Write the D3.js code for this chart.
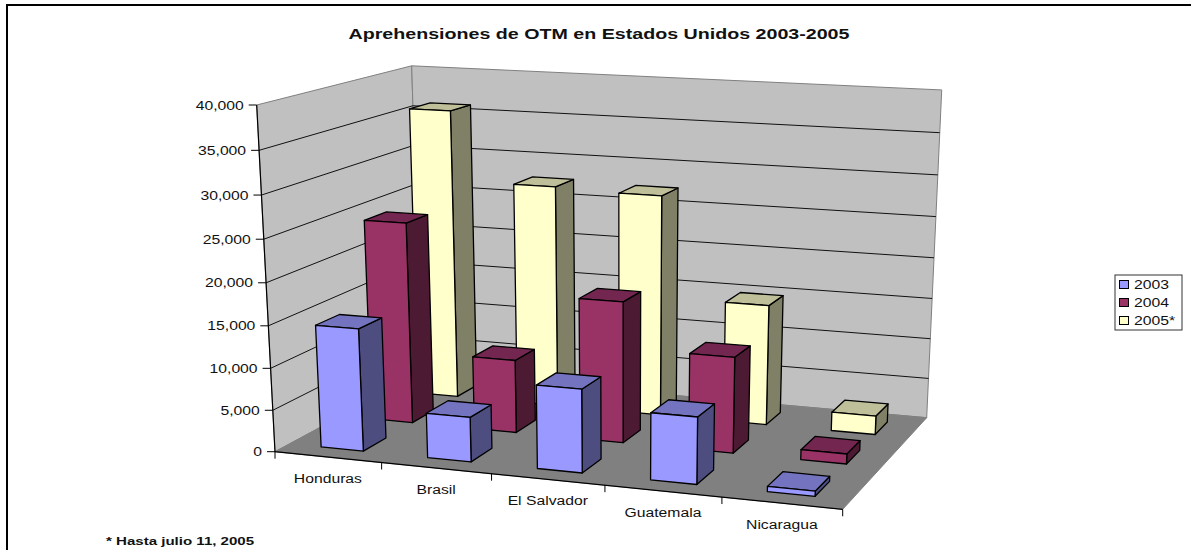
<!DOCTYPE html>
<html>
<head>
<meta charset="utf-8">
<script src="https://cdn.jsdelivr.net/npm/d3@7"></script>
<style>
  html, body { margin: 0; padding: 0; background: #fff; }
  svg { display: block; }
  text { font-family: "Liberation Sans", Arial, sans-serif; fill: #111; }
</style>
</head>
<body>
<div id="chart"></div>
<script>
const categories = ["Honduras", "Brasil", "El Salvador", "Guatemala", "Nicaragua"];
const years = ["2003", "2004", "2005*"];
const values2003 = [14600, 5300, 9800, 7800, 600];
const values2004 = [24500, 8900, 17000, 11500, 1200];
const values2005 = [36000, 27500, 27200, 14800, 2300];
const valueTicks = [0, 5000, 10000, 15000, 20000, 25000, 30000, 35000, 40000];
const faceColors = ["#9999ff", "#993366", "#ffffcc"];
const sideColors = ["#4d4d80", "#4d1a33", "#808066"];
const topColors = ["#7373bf", "#732650", "#bfbf99"];
const seriesValues = [values2003, values2004, values2005];

const width = 1191, height = 550;
const stretch = 1.31; // the source picture is wider than it is tall

const svg = d3.select("#chart").append("svg")
    .attr("width", width)
    .attr("height", height);

// screen corners of the floor and the wall tops
const floorFL = [275, 451.7], floorFR = [842.7, 509.3], floorBR = [926.7, 417.7], floorBL = [421, 373];
const topFL = [256.7, 105], topBL = [411.7, 67.5];

// floor homography (unit square to quad)
const dx1 = floorFR[0] - floorBR[0], dx2 = floorBL[0] - floorBR[0];
const dy1 = floorFR[1] - floorBR[1], dy2 = floorBL[1] - floorBR[1];
const sx = floorFL[0] - floorFR[0] + floorBR[0] - floorBL[0];
const sy = floorFL[1] - floorFR[1] + floorBR[1] - floorBL[1];
const det = dx1 * dy2 - dx2 * dy1;
const g = (sx * dy2 - dx2 * sy) / det, h = (dx1 * sy - sx * dy1) / det;
const colX = [floorFR[0] - floorFL[0] + g * floorFR[0], floorFR[1] - floorFL[1] + g * floorFR[1], g];
const colZ = [floorBL[0] - floorFL[0] + h * floorBL[0], floorBL[1] - floorFL[1] + h * floorBL[1], h];
const origin = [floorFL[0], floorFL[1], 1];
// vertical column, from the two wall top points
const s = (topBL[0] * colZ[2] - colZ[0]) / (topFL[0] - topBL[0]);
const colY = [s * topFL[0] - origin[0], s * topFL[1] - origin[1], s - 1];

// x across, z into the picture, y up, all 0..1
function project(x, z, y) {
    const p = [0, 1, 2].map(i => colX[i] * x + colZ[i] * z + colY[i] * y + origin[i]);
    return [p[0] / p[2], p[1] / p[2]];
}

const xScale = d3.scaleBand().domain(categories).range([0, 1]).paddingInner(0.6).paddingOuter(0.3);
const zScale = d3.scaleBand().domain(years).range([0, 1]).paddingInner(0.55).paddingOuter(0.27);
const yScale = d3.scaleLinear().domain([0, 40000]).range([0, 1]);

const line = d3.line();
function poly(parent, pts, fill, stroke, sw) {
    return parent.append("path")
        .attr("d", line(pts) + "Z")
        .attr("fill", fill)
        .attr("stroke", stroke)
        .attr("stroke-width", sw)
        .attr("stroke-linejoin", "round");
}
function label(x, y, str, size, anchor, bold) {
    return svg.append("text")
        .attr("transform", "translate(" + x + "," + y + ") scale(" + stretch + ",1)")
        .attr("text-anchor", anchor)
        .attr("font-size", size)
        .attr("font-weight", bold ? "bold" : "normal")
        .text(str);
}

// outer frame, the right and bottom sides are cut off in the source
svg.append("path")
    .attr("d", "M7,552V5H1191")
    .attr("fill", "none")
    .attr("stroke", "#000")
    .attr("stroke-width", 2);

// walls and floor
const walls = svg.append("g");
poly(walls, [project(0, 0, 0), project(0, 1, 0), project(0, 1, 1), project(0, 0, 1)], "#c0c0c0", "#808080", 1);
poly(walls, [project(0, 1, 0), project(1, 1, 0), project(1, 1, 1), project(0, 1, 1)], "#c0c0c0", "#808080", 1);
poly(walls, [project(0, 0, 0), project(1, 0, 0), project(1, 1, 0), project(0, 1, 0)], "#808080", "#808080", 1);

// gridlines on both walls
valueTicks.slice(1, -1).forEach(v => {
    const y = yScale(v);
    walls.append("path")
        .attr("d", line([project(0, 0, y), project(0, 1, y), project(1, 1, y)]))
        .attr("fill", "none")
        .attr("stroke", "#111")
        .attr("stroke-width", 1);
});

// axis lines
walls.append("path")
    .attr("d", line([project(0, 0, 1), project(0, 0, 0), project(1, 0, 0)]))
    .attr("fill", "none")
    .attr("stroke", "#000")
    .attr("stroke-width", 1.2);

// value ticks and labels
valueTicks.forEach(v => {
    const p = project(0, 0, yScale(v));
    walls.append("line")
        .attr("x1", p[0] - 8).attr("x2", p[0])
        .attr("y1", p[1]).attr("y2", p[1])
        .attr("stroke", "#000");
    label(p[0] - 13, p[1] + 4.5, d3.format(",")(v), 12, "end", false);
});

// category ticks and labels
d3.range(categories.length + 1).forEach(i => {
    const p = project(i / categories.length, 0, 0);
    walls.append("line")
        .attr("x1", p[0]).attr("x2", p[0])
        .attr("y1", p[1]).attr("y2", p[1] + 7)
        .attr("stroke", "#000");
});
categories.forEach(c => {
    const p = project(xScale(c) + xScale.bandwidth() / 2, 0, 0);
    label(p[0], p[1] + 26, c, 12, "middle", false);
});

// bars, back row first so the nearer ones cover them
const bars = svg.append("g");
d3.range(years.length - 1, -1, -1).forEach(si => {
    categories.forEach((c, ci) => {
        const x0 = xScale(c), x1 = x0 + xScale.bandwidth();
        const z0 = zScale(years[si]), z1 = z0 + zScale.bandwidth();
        const y = yScale(seriesValues[si][ci]);
        poly(bars, [project(x1, z0, 0), project(x1, z1, 0), project(x1, z1, y), project(x1, z0, y)], sideColors[si], "#000", 1.3);
        poly(bars, [project(x0, z0, y), project(x1, z0, y), project(x1, z1, y), project(x0, z1, y)], topColors[si], "#000", 1.3);
        poly(bars, [project(x0, z0, 0), project(x1, z0, 0), project(x1, z0, y), project(x0, z0, y)], faceColors[si], "#000", 1.3);
    });
});

// title, footnote
label(599, 39, "Aprehensiones de OTM en Estados Unidos 2003-2005", 15, "middle", true);
label(106, 545, "* Hasta julio 11, 2005", 11.5, "start", true);

// legend
svg.append("rect")
    .attr("x", 1115).attr("y", 275)
    .attr("width", 67).attr("height", 55)
    .attr("fill", "#fff").attr("stroke", "#333").attr("stroke-width", 1);
years.forEach((yr, i) => {
    const yy = 285 + i * 18;
    svg.append("rect")
        .attr("x", 1119.5).attr("y", yy - 4.5)
        .attr("width", 9).attr("height", 8)
        .attr("fill", faceColors[i]).attr("stroke", "#000").attr("stroke-width", 1);
    label(1134, yy + 4, yr, 12, "start", false);
});
</script>
</body>
</html>
